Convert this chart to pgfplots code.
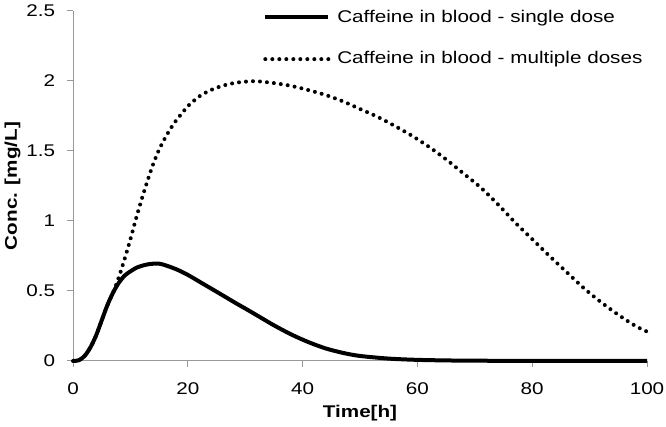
\documentclass[border=0pt]{standalone}
\usepackage{fontspec}
\setmainfont{Liberation Sans}[FakeStretch=1.22]
\usepackage{pgfplots}
\pgfplotsset{compat=1.18}
\usepackage{pgfplotstable}
\pgfplotstableread{
t c
0 0
1 0.005
2 0.035
3 0.095
4 0.18
5 0.29
6 0.40
7 0.49
8 0.56
9 0.61
10 0.64
11 0.665
12 0.68
13 0.69
14 0.695
15 0.695
16 0.685
18 0.655
20 0.615
22.5 0.555
25 0.495
28.5 0.41
30 0.375
32.5 0.315
35 0.255
38 0.19
41 0.135
44 0.09
47 0.058
50 0.036
55 0.017
60 0.008
65 0.004
70 0.002
80 0.001
90 0.0
100 0
}\single
\pgfplotstableread{
t c
0 0
1 0.005
2 0.035
3 0.095
4 0.18
5 0.29
6 0.40
7 0.49
8 0.60
9 0.73
10 0.87
11 1.02
12 1.16
13 1.29
14 1.41
15 1.51
16 1.59
17 1.66
18 1.72
19 1.77
20 1.82
22 1.89
24 1.935
26 1.965
28 1.985
30 1.995
32 1.998
35 1.985
38 1.965
41 1.935
44 1.90
47 1.855
50 1.80
53 1.745
56 1.68
59 1.61
62 1.53
65 1.44
68 1.34
71 1.24
74 1.12
77 0.99
80 0.87
83 0.75
86 0.635
89 0.52
92 0.42
95 0.33
98 0.25
100 0.21
}\multiple
\begin{document}
\fontsize{17}{20}\selectfont
\begin{tikzpicture}
\begin{axis}[
  scale only axis,
  width=574bp, height=350bp,
  xmin=0, xmax=100, ymin=0, ymax=2.5,
  xtick={0,20,40,60,80,100},
  ytick={0,0.5,1,1.5,2,2.5},
  axis lines=left,
  axis line style={black!40, line width=1bp, -},
  tick style={black!40, line width=1bp},
  tick align=outside,
  major tick length=6bp,
  clip=false,
  /pgf/number format/assume math mode=true,
  ticklabel style={font=\fontsize{17}{20}\selectfont},
  xticklabel style={yshift=-10bp},
  yticklabel style={xshift=-6bp},
  xlabel={\bfseries Time[h]},
  ylabel={\bfseries Conc. [mg/L]},
  xlabel style={at={(rel axis cs:0.5,-0.149)}, anchor=center},
  ylabel style={at={(rel axis cs:-0.1054,0.5)}, anchor=center, rotate=0},
  label style={font=\fontsize{17}{20}\selectfont},
  legend style={at={(0.326,1.015)}, anchor=north west, draw=none, fill=none,
    font=\fontsize{17}{20}\selectfont, row sep=23bp,
    /tikz/every odd column/.append style={column sep=5bp}},
  legend cell align=left,
  legend image code/.code={\draw[#1] (0bp,0bp) -- (63bp,0bp);},
]
\addplot[black, line width=4bp, smooth] table[x=t,y=c] {\single};
\addlegendentry{Caffeine in blood - single dose}
\addplot[black, line width=4bp, line cap=round, dash pattern=on 0bp off 7bp, smooth] table[x=t,y=c] {\multiple};
\addlegendentry{Caffeine in blood - multiple doses}
\coordinate (bl) at (rel axis cs:-0.1272,-0.1886);
\coordinate (tr) at (rel axis cs:1.0331,1.0314);
\end{axis}
\pgfresetboundingbox
\path[use as bounding box] (bl) rectangle (tr);
\end{tikzpicture}
\end{document}
